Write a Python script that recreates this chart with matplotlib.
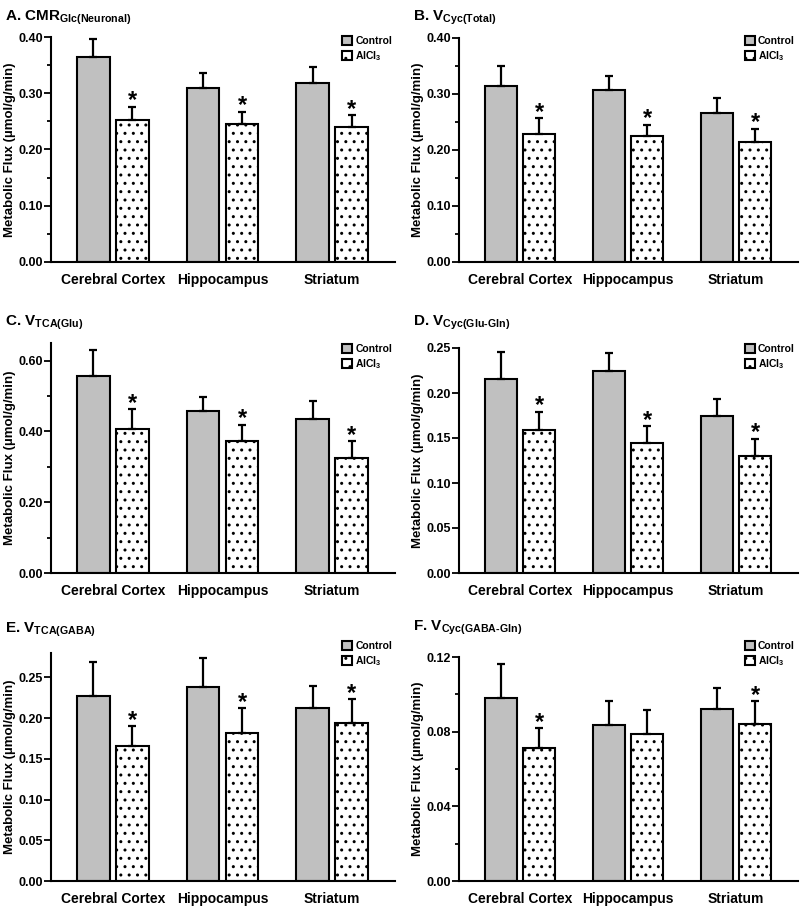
import matplotlib
matplotlib.use('Agg')
import matplotlib.pyplot as plt
from matplotlib.ticker import MultipleLocator, FormatStrFormatter
import numpy as np

plt.rcParams['font.family'] = ['Liberation Sans', 'DejaVu Sans']
plt.rcParams['font.weight'] = 'bold'
plt.rcParams['mathtext.fontset'] = 'custom'
plt.rcParams['mathtext.bf'] = 'Liberation Sans:bold'
plt.rcParams['mathtext.rm'] = 'Liberation Sans:bold'
plt.rcParams['hatch.linewidth'] = 1.0

regions = ['Cerebral Cortex', 'Hippocampus', 'Striatum']

# mean and SD (upper error only)
a_ctrl = [0.364, 0.310, 0.318]
a_ctrl_err = [0.033, 0.026, 0.028]
a_alcl = [0.252, 0.246, 0.240]
a_alcl_err = [0.024, 0.021, 0.021]
a_sig = [True, True, True]

b_ctrl = [0.315, 0.307, 0.266]
b_ctrl_err = [0.035, 0.026, 0.027]
b_alcl = [0.229, 0.225, 0.214]
b_alcl_err = [0.028, 0.020, 0.024]
b_sig = [True, True, True]

c_ctrl = [0.556, 0.458, 0.436]
c_ctrl_err = [0.074, 0.039, 0.050]
c_alcl = [0.406, 0.373, 0.325]
c_alcl_err = [0.057, 0.046, 0.048]
c_sig = [True, True, True]

d_ctrl = [0.216, 0.224, 0.174]
d_ctrl_err = [0.030, 0.020, 0.019]
d_alcl = [0.159, 0.145, 0.130]
d_alcl_err = [0.020, 0.018, 0.019]
d_sig = [True, True, True]

e_ctrl = [0.227, 0.238, 0.213]
e_ctrl_err = [0.042, 0.036, 0.027]
e_alcl = [0.166, 0.182, 0.194]
e_alcl_err = [0.024, 0.030, 0.029]
e_sig = [True, True, True]

f_ctrl = [0.098, 0.0834, 0.092]
f_ctrl_err = [0.018, 0.013, 0.0114]
f_alcl = [0.0714, 0.0789, 0.0841]
f_alcl_err = [0.0104, 0.0125, 0.0123]
f_sig = [True, False, True]

titles = [r'A. CMR$_{\mathbf{Glc(Neuronal)}}$', r'B. V$_{\mathbf{Cyc(Total)}}$',
          r'C. V$_{\mathbf{TCA(Glu)}}$', r'D. V$_{\mathbf{Cyc(Glu}\text{-}\mathbf{Gln)}}$',
          r'E. V$_{\mathbf{TCA(GABA)}}$', r'F. V$_{\mathbf{Cyc(GABA}\text{-}\mathbf{Gln)}}$']

W, H = 800, 910
fig = plt.figure(figsize=(8, 9.1), dpi=100)

# panel layout in pixels: left, right, bottom, top, ylim top, major, minor, title y, legend top
panels = [
    (a_ctrl, a_ctrl_err, a_alcl, a_alcl_err, a_sig, 51, 395, 262, 37, 0.40, 0.10, 0.05, 20, 36),
    (b_ctrl, b_ctrl_err, b_alcl, b_alcl_err, b_sig, 459, 798, 262, 38, 0.40, 0.10, 0.05, 20, 36),
    (c_ctrl, c_ctrl_err, c_alcl, c_alcl_err, c_sig, 51, 395, 573, 343, 0.65, 0.20, 0.10, 325, 344),
    (d_ctrl, d_ctrl_err, d_alcl, d_alcl_err, d_sig, 459, 798, 573, 348, 0.25, 0.05, None, 325, 344),
    (e_ctrl, e_ctrl_err, e_alcl, e_alcl_err, e_sig, 51, 395, 881, 653, 0.28, 0.05, None, 632, 641),
    (f_ctrl, f_ctrl_err, f_alcl, f_alcl_err, f_sig, 459, 798, 881, 657, 0.12, 0.04, 0.02, 630, 641),
]

x = np.arange(len(regions))
bw = 0.30
off = 0.178

for i, (ctrl, ctrl_err, alcl, alcl_err, sig, l, r, b, t, ymax, major, minor, ty, ly) in enumerate(panels):
    ax = fig.add_axes([l / W, 1 - b / H, (r - l) / W, (b - t) / H])
    zeros = [0] * len(regions)
    ax.bar(x - off, ctrl, bw, color='#c0c0c0', edgecolor='black', linewidth=1.5,
           label='Control', zorder=2)
    ax.bar(x + off, alcl, bw, color='white', edgecolor='black', linewidth=1.5,
           hatch='..', label='AlCl$_3$', zorder=2)
    ax.errorbar(x - off, ctrl, yerr=[zeros, ctrl_err], fmt='none', ecolor='black',
                elinewidth=1.6, capsize=3, capthick=1.6, zorder=3)
    ax.errorbar(x + off, alcl, yerr=[zeros, alcl_err], fmt='none', ecolor='black',
                elinewidth=1.6, capsize=3, capthick=1.6, zorder=3)
    for j in range(len(regions)):
        if sig[j]:
            ax.annotate('*', (x[j] + off, alcl[j] + alcl_err[j]), xytext=(0, -4),
                        textcoords='offset points', ha='center', va='bottom',
                        fontsize=17, fontweight='bold')
    ax.set_xlim(-0.566, 2.575)
    ax.set_ylim(0, ymax)
    ax.yaxis.set_major_locator(MultipleLocator(major))
    if minor:
        ax.yaxis.set_minor_locator(MultipleLocator(minor))
    ax.yaxis.set_major_formatter(FormatStrFormatter('%.2f'))
    ax.set_xticks(x)
    ax.set_xticklabels(regions, fontsize=10, fontweight='bold')
    ax.tick_params(axis='x', length=0, pad=8)
    ax.tick_params(axis='y', which='major', length=5, width=1.3, labelsize=9, pad=1)
    ax.tick_params(axis='y', which='minor', length=3, width=1.3)
    for lab in ax.get_yticklabels():
        lab.set_fontweight('bold')
    ax.spines['top'].set_visible(False)
    ax.spines['right'].set_visible(False)
    ax.spines['left'].set_linewidth(1.5)
    ax.spines['bottom'].set_linewidth(1.5)
    ax.set_ylabel('Metabolic Flux (µmol/g/min)', fontsize=9.5, fontweight='bold')
    ax.yaxis.set_label_coords(-35 / (r - l), 0.5)
    leg = ax.legend(loc='upper right', bbox_to_anchor=((r - 3) / W, 1 - ly / H),
                    bbox_transform=fig.transFigure, frameon=False, fontsize=7.5,
                    handlelength=1.0, handleheight=1.0, handletextpad=0.3,
                    labelspacing=0.25, borderpad=0, borderaxespad=0)
    for txt in leg.get_texts():
        txt.set_fontweight('bold')
    fig.text((l - 46) / W, 1 - ty / H, titles[i], fontsize=11, fontweight='bold',
             ha='left', va='baseline')

fig.savefig('out.png', dpi=100)
